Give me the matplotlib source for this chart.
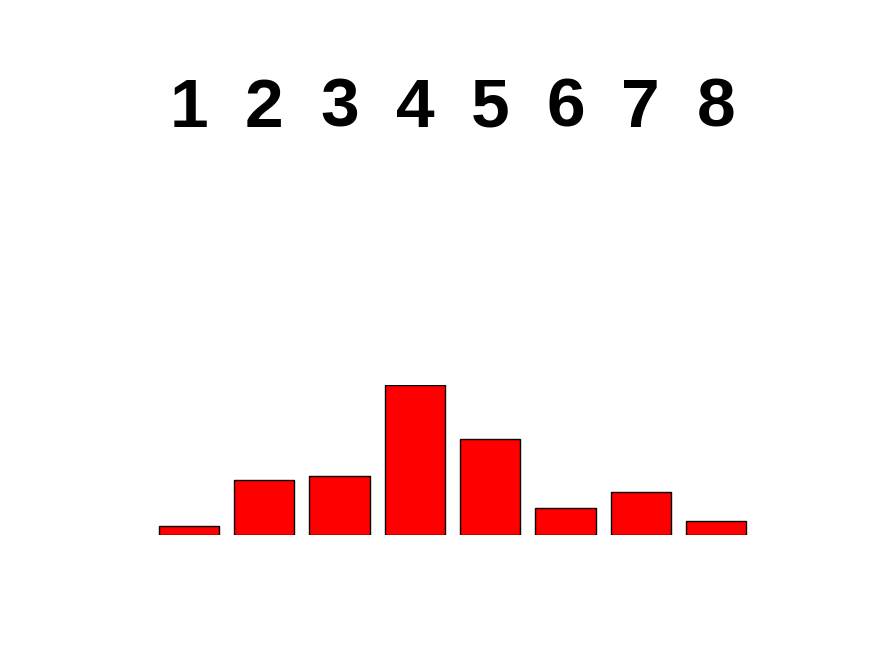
import matplotlib
matplotlib.use("Agg")
import matplotlib.pyplot as plt
import matplotlib.transforms as mtransforms

categories = [1, 2, 3, 4, 5, 6, 7, 8]
labels = ["1", "2", "3", "4", "5", "6", "7", "8"]
values = [2, 12, 13, 33, 21, 6, 9.5, 3]

fig = plt.figure(figsize=(8.75, 6.56), dpi=100)
ax = fig.add_axes([0.173, 0.1845, 0.6883, 0.2287])
ax.bar(categories, values, width=0.8, color="#ff0000", edgecolor="black", linewidth=1.0)
ax.set_xlim(0.5, 8.5)
ax.set_ylim(0, 33)
ax.axis("off")

trans = mtransforms.blended_transform_factory(ax.transData, fig.transFigure)
for x, lab in zip(categories, labels):
    ax.text(x, 0.834, lab, transform=trans, ha="center", va="center",
            fontsize=50, fontweight="bold", family="Liberation Sans")

fig.savefig("out.png", dpi=100)
